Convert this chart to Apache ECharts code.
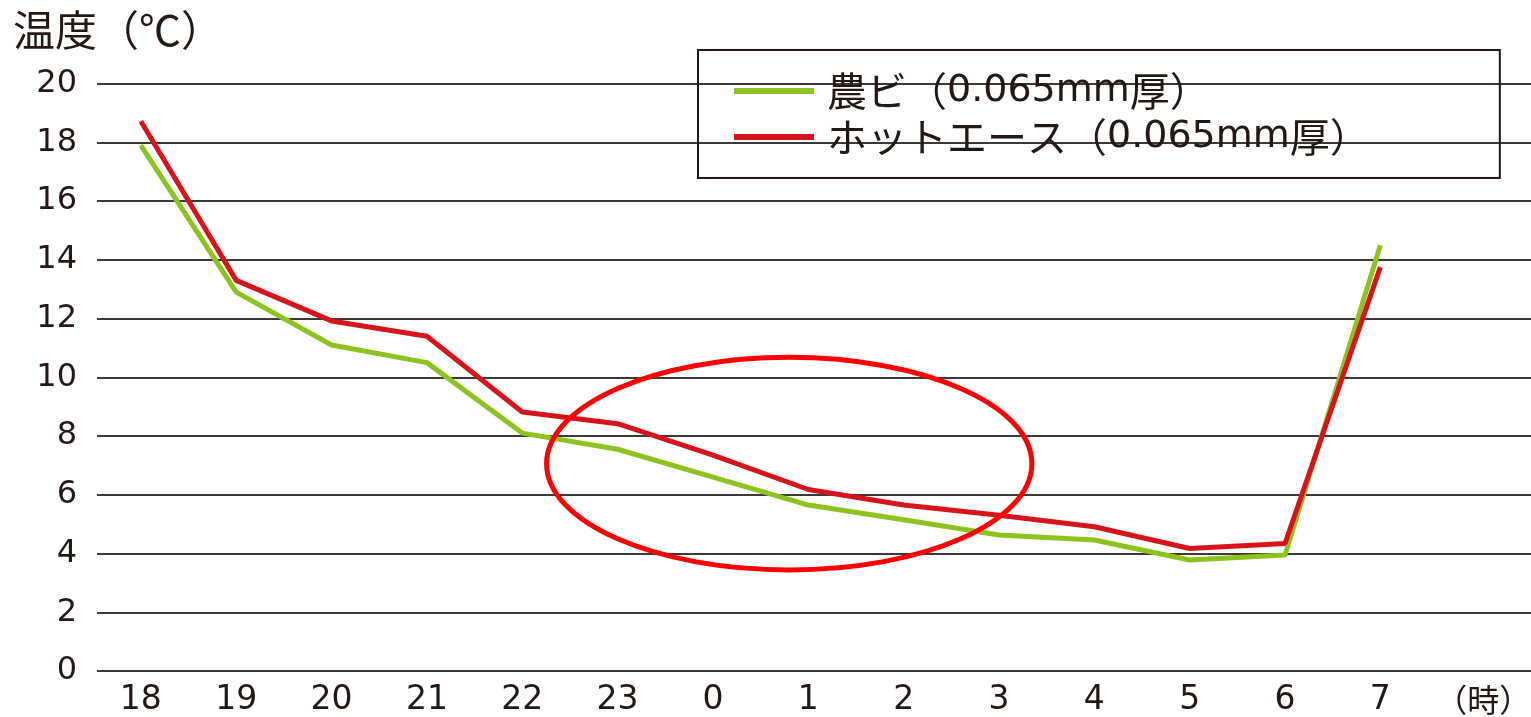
<!DOCTYPE html>
<html><head><meta charset="utf-8">
<script src="https://cdn.jsdelivr.net/npm/echarts@6/dist/echarts.min.js"></script>
<style>html,body{margin:0;padding:0;background:#fff}#c{width:1531px;height:717px}</style>
</head><body><div id="c"></div>
<script>
// ---- data ----
const hours = ['18','19','20','21','22','23','0','1','2','3','4','5','6','7'];
const nobiTemps   = [17.9, 12.9, 11.1, 10.5, 8.1, 7.55, 6.6, 5.65, 5.15, 4.63, 4.46, 3.78, 3.95, 14.5];
const hotAceTemps = [18.72, 13.3, 11.92, 11.4, 8.82, 8.42, 7.35, 6.18, 5.65, 5.3, 4.91, 4.17, 4.34, 13.75];
const seriesNames = ['農ビ（0.065mm厚）', 'ホットエース（0.065mm厚）'];
const yTitle = '温度（℃）';
const xUnit = '（時）';
const yMin = 0, yMax = 20, yStep = 2;
// highlight ellipse (in data units: hour index, temperature)
const highlight = { cx: 6.8, cy: 7.06, rx: 2.545, ry: 3.62 };

const unitPos = 14.08;
const xLabelValues = hours.map((h, i) => i).concat([unitPos]);

const chart = echarts.init(document.getElementById('c'), null, { renderer: 'canvas' });
const numFont = 'DejaVu Sans';
const cjkFont = 'Noto Sans CJK JP';
const ink = '#231815';

const option = {
  backgroundColor: '#fff',
  animation: false,
  title: {
    text: yTitle, left: 8, top: 4,
    textStyle: { fontFamily: cjkFont, fontSize: 42, fontWeight: 'normal', color: ink }
  },
  legend: {
    orient: 'vertical', left: 698, top: 50,
    padding: [21, 130, 21, 36],
    borderColor: ink, borderWidth: 2,
    itemWidth: 80, itemHeight: 6, itemGap: 6,
    icon: 'rect',
    formatter: name => name.replace(/(0\.065mm)/, '{n|$1}'),
    textStyle: {
      fontFamily: cjkFont, fontSize: 40, color: ink, padding: [0, 0, 0, 8],
      rich: { n: { fontFamily: numFont, fontSize: 38, color: ink } }
    },
    data: seriesNames
  },
  grid: { left: 97, right: 0, top: 83.6, bottom: 46, outerBoundsMode: 'none', containLabel: false },
  xAxis: {
    type: 'value', min: -0.46, max: 14.58,
    axisLine: { show: false }, axisTick: { show: false }, splitLine: { show: false },
    axisLabel: {
      customValues: xLabelValues,
      margin: 13,
      fontFamily: numFont, fontSize: 33, color: ink,
      formatter: v => (v === unitPos ? '{u|' + xUnit + '}' : hours[Math.round(v)]),
      rich: { u: { fontFamily: cjkFont, fontSize: 32, color: ink } }
    }
  },
  yAxis: {
    type: 'value', min: yMin, max: yMax, interval: yStep,
    axisLine: { show: false }, axisTick: { show: false },
    splitLine: { lineStyle: { color: '#3c3836', width: 2 } },
    axisLabel: {
      margin: 20, fontFamily: numFont, fontSize: 32, color: ink,
      padding: [0, 0, 12, 0]
    }
  },
  series: [
    {
      name: seriesNames[0], type: 'line', showSymbol: false, symbol: 'none',
      data: nobiTemps.map((v, i) => [i, v]),
      lineStyle: { color: '#8cc31f', width: 5 }, itemStyle: { color: '#8cc31f' }, z: 3
    },
    {
      name: seriesNames[1], type: 'line', showSymbol: false, symbol: 'none',
      data: hotAceTemps.map((v, i) => [i, v]),
      lineStyle: { color: '#d7141a', width: 5 }, itemStyle: { color: '#d7141a' }, z: 4
    }
  ]
};
chart.setOption(option);

const c0 = chart.convertToPixel({ gridIndex: 0 }, [highlight.cx, highlight.cy]);
const c1 = chart.convertToPixel({ gridIndex: 0 }, [highlight.cx + highlight.rx, highlight.cy + highlight.ry]);
chart.setOption({
  graphic: [{
    type: 'ellipse', z: 10,
    shape: { cx: c0[0], cy: c0[1], rx: Math.abs(c1[0] - c0[0]), ry: Math.abs(c1[1] - c0[1]) },
    style: { fill: 'none', stroke: '#ff0000', lineWidth: 5 }
  }]
});
</script>
</body></html>
